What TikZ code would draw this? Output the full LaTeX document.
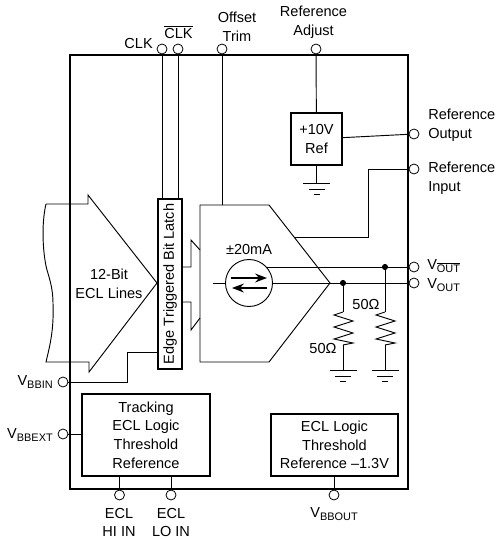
\documentclass[tikz,border=0pt]{standalone}
\usepackage{fontspec}
\usepackage{amsmath}
\setmainfont{Liberation Sans}
\usetikzlibrary{arrows.meta,calc}
\newcommand{\subtxt}[1]{\raisebox{-0.35ex}{\fontsize{8.2}{9}\selectfont #1}}
\tikzset{
  pad/.style={draw, circle, fill=white, inner sep=0pt, minimum size=7.5pt, line width=0.6pt},
  dot/.style={circle, fill=black, inner sep=0pt, minimum size=4.6pt},
  lab/.style={inner sep=0pt, align=center},
  heavybox/.style={draw, line width=1.3pt, inner sep=0pt, align=center},
  wire/.style={line width=0.7pt},
  gnd/.pic={
    \draw[wire] (-13.5,0) -- (13.5,0);
    \draw[wire] (-8,6) -- (8,6);
    \draw[wire] (-3,11) -- (3,11);
  },
  resis/.pic={
    \draw[wire] (0,0) -- (-9,3) -- (10,9) -- (-9,15) -- (10,21) -- (-9,27) -- (10,31) -- (0,33);
  }
}
\begin{document}
\begin{tikzpicture}[x=0.75pt, y=-0.75pt, >=Stealth,
    every node/.append style={font=\fontsize{10.9}{13.9}\selectfont}]
  \useasboundingbox (0,0) rectangle (498,539);

  % package outline
  \draw[line width=1.3pt] (70,55) rectangle (408,489);

  % pads
  \node[pad] (clk) at (162,49) {};
  \node[pad] (clkn) at (178,49) {};
  \node[pad] (trim) at (222,49) {};
  \node[pad] (adj) at (316,49) {};
  \node[pad] (refout) at (414,134) {};
  \node[pad] (refin) at (414,169) {};
  \node[pad] (voutn) at (414,267) {};
  \node[pad] (vout) at (414,283) {};
  \node[pad] (vbbin) at (63,382) {};
  \node[pad] (vbbext) at (63,434) {};
  \node[pad] (hiin) at (119.5,495) {};
  \node[pad] (loin) at (171,495) {};
  \node[pad] (vbbout) at (334,495) {};

  % pad labels
  \node[lab, anchor=east] (clkLab) at (153,43) {CLK};
  \node[lab] (clknLab) at (178.5,32) {$\overline{\mbox{CLK}}$};
  \node[lab] (trimLab) at (237,27) {Offset\\Trim};
  \node[lab] (adjLab) at (313.5,22.5) {Reference\\Adjust};
  \node[lab, anchor=west, align=left] (outLab) at (428,125.5) {Reference\\Output};
  \node[lab, anchor=west, align=left] (inLab) at (428,178.5) {Reference\\Input};
  \node[lab, anchor=west] (voutnLab) at (427,266) {V\subtxt{$\overline{\mbox{\fontsize{8.2}{9}\selectfont OUT}}$}};
  \node[lab, anchor=west] (voutLab) at (427,285) {V\subtxt{OUT}};
  \node[lab, anchor=east] (vbbinLab) at (53,382) {V\subtxt{BBIN}};
  \node[lab, anchor=east] (vbbextLab) at (53,435) {V\subtxt{BBEXT}};
  \node[lab] (hiLab) at (119,522.5) {ECL\\HI IN};
  \node[lab] (loLab) at (171,522.5) {ECL\\LO IN};
  \node[lab] (vbboutLab) at (334,514) {V\subtxt{BBOUT}};

  % blocks
  \node[heavybox, minimum width=38.25pt, minimum height=39pt] (ref) at (316.5,139) {+10V\\Ref};
  \node[heavybox, minimum width=96pt, minimum height=61.5pt] (track) at (146,435)
    {Tracking\\ECL Logic\\Threshold\\Reference};
  \node[heavybox, minimum width=95.25pt, minimum height=46.5pt] (thresh) at (334.5,445)
    {ECL Logic\\Threshold\\Reference --1.3V};
  \node[draw, line width=0.9pt, rotate=90, inner sep=0pt, minimum width=127.5pt, minimum height=18pt]
    (latch) at (170,284) {Edge Triggered Bit Latch};

  % 12-bit input arrow
  \draw[wire] (46,204) -- (88,204) -- (88,195) -- (157,283) -- (89,372) -- (89,362) -- (46,362)
    .. controls (50,345) and (54,330) .. (53,303)
    .. controls (53,290) and (50,280) .. (47,270)
    .. controls (43,255) and (41,225) .. (46,204);
  \node[lab] (eclLines) at (109,284) {12-Bit\\ECL Lines};

  % latch outputs into the DAC
  \draw[wire] (182,267) -- (191,267) -- (191,240) -- (200,250);
  \draw[wire] (182,302) -- (191,302) -- (191,330) -- (200,318);

  % DAC body
  \draw[wire] (200,205) -- (269,205) -- (330,283) -- (269,362) -- (200,362) -- cycle;
  \coordinate (dacTop) at (222,205);
  \coordinate (dacEdge) at (295,237);
  \node[lab] (amps) at (249,249) {±20mA};

  % current source
  \node[draw, circle, line width=0.7pt, inner sep=0pt, minimum size=35.25pt] (isrc) at (249,283) {};
  \coordinate (isrcStub) at (213,283);
  \draw[wire] (isrcStub) -- (isrc.west);
  \draw[->, line width=1.3pt] (231,278) -- (267,278);
  \draw[->, line width=1.3pt] (267,288) -- (232,288);

  % output junctions
  \node[dot] (jOut) at (343,283) {};
  \node[dot] (jOutn) at (385,267) {};
  \draw[wire] (isrc.east) -- (jOut) -- (vout);
  \draw[wire] ($(isrc.center)+(17,-16)$) -- (jOutn) -- (voutn);

  % load resistors
  \coordinate (rOutTop) at (343,312);
  \coordinate (rOutBot) at (343,345);
  \coordinate (rOutnTop) at (385,312);
  \coordinate (rOutnBot) at (385,345);
  \coordinate (gndOut) at (343,370);
  \coordinate (gndOutn) at (385,370);
  \draw[wire] (jOut) -- (rOutTop);
  \draw[wire] (jOutn) -- (rOutnTop);
  \draw[wire] (rOutBot) -- (gndOut);
  \draw[wire] (rOutnBot) -- (gndOutn);
  \pic at (rOutTop) {resis};
  \pic at (rOutnTop) {resis};
  \pic at (gndOut) {gnd};
  \pic at (gndOutn) {gnd};
  \node[lab] (rOutLab) at (323,348) {50Ω};
  \node[lab] (rOutnLab) at (366,304) {50Ω};

  % remaining connections
  \draw[wire] (clk) -- (clk |- latch.east);
  \draw[wire] (clkn) -- (clkn |- latch.east);
  \draw[wire] (trim) -- (dacTop);
  \draw[wire] (adj) -- (ref);
  \draw[wire] (ref) -- (refout);
  \coordinate (gndRef) at (316.5,183);
  \draw[wire] (ref) -- (gndRef);
  \pic at (gndRef) {gnd};
  \draw[wire] (refin) -- (368,169) -- (368,237) -- (dacEdge);
  \draw[wire] (vbbin) -- (127,382) -- (127,352) -- (158,352);
  \draw[wire] (vbbext) -- (vbbext -| track.west);
  \draw[wire] (hiin) -- (hiin |- track.south);
  \draw[wire] (loin) -- (loin |- track.south);
  \draw[wire] (vbbout) -- (vbbout |- thresh.south);
\end{tikzpicture}
\end{document}
